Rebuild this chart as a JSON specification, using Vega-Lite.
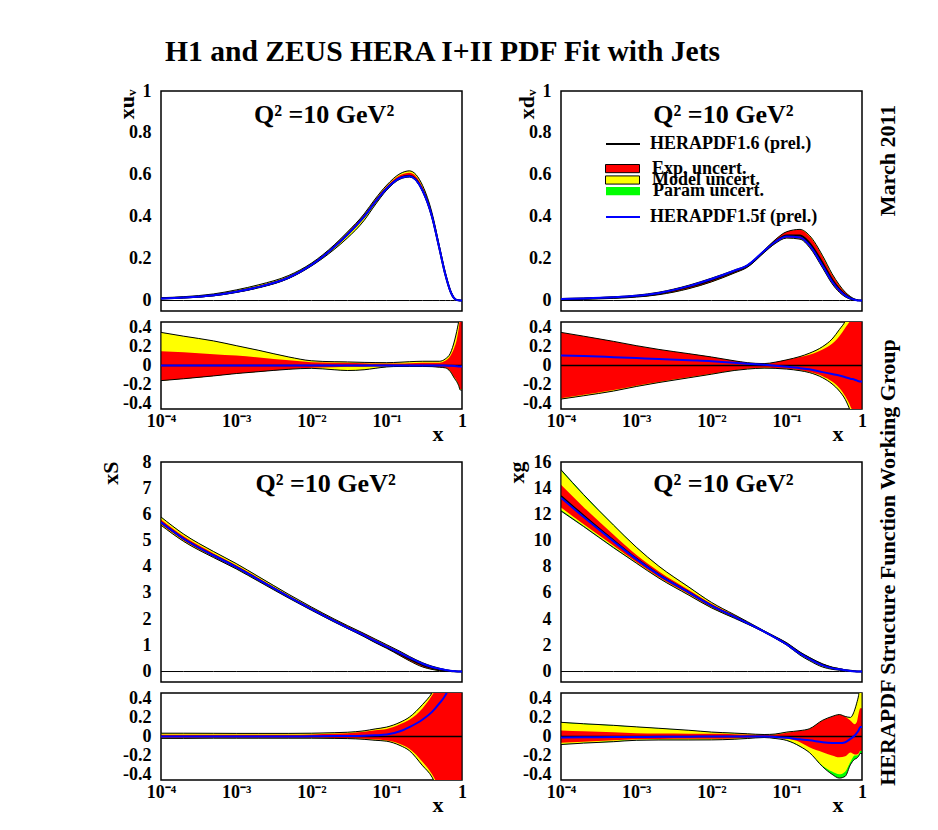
{
"$schema": "https://vega.github.io/schema/vega-lite/v6.json",
"autosize": {"type": "none"},
"padding": {"left": 161, "top": 91, "right": 777, "bottom": 739},
"background": "white",
"title": {"text": "H1 and ZEUS HERA I+II PDF Fit with Jets", "anchor": "start", "frame": "group", "offset": 30, "dy": 39, "baseline": "alphabetic", "font": "Liberation Serif", "fontSize": 29.6, "fontWeight": "bold", "color": "black", "dx": 4},
"datasets": {
"tl": [
{"x":0.0001,"c":0.010,"b":0.010,"yl":0.0084,"rl":0.0084,"rh":0.0115,"yh":0.0135},
{"x":0.0002,"c":0.014,"b":0.014,"yl":0.012,"rl":0.012,"rh":0.016,"yh":0.0183},
{"x":0.0005,"c":0.025,"b":0.025,"yl":0.0223,"rl":0.0223,"rh":0.028,"yh":0.0315},
{"x":0.001,"c":0.042,"b":0.042,"yl":0.0384,"rl":0.0384,"rh":0.0464,"yh":0.0508},
{"x":0.002,"c":0.065,"b":0.065,"yl":0.0608,"rl":0.0608,"rh":0.0705,"yh":0.0754},
{"x":0.005,"c":0.11,"b":0.11,"yl":0.1056,"rl":0.1056,"rh":0.116,"yh":0.12},
{"x":0.01,"c":0.17,"b":0.17,"yl":0.1649,"rl":0.1658,"rh":0.176,"yh":0.1785},
{"x":0.02,"c":0.255,"b":0.255,"yl":0.2435,"rl":0.2504,"rh":0.2627,"yh":0.2652},
{"x":0.03,"c":0.315,"b":0.315,"yl":0.2983,"rl":0.3106,"rh":0.3238,"yh":0.327},
{"x":0.05,"c":0.40,"b":0.40,"yl":0.382,"rl":0.3952,"rh":0.41,"yh":0.4132},
{"x":0.07,"c":0.47,"b":0.47,"yl":0.4559,"rl":0.4648,"rh":0.4803,"yh":0.4846},
{"x":0.1,"c":0.535,"b":0.535,"yl":0.527,"rl":0.5297,"rh":0.5457,"yh":0.551},
{"x":0.15,"c":0.585,"b":0.585,"yl":0.5792,"rl":0.5803,"rh":0.5979,"yh":0.6055},
{"x":0.2,"c":0.595,"b":0.593,"yl":0.589,"rl":0.5902,"rh":0.6099,"yh":0.6188},
{"x":0.3,"c":0.525,"b":0.524,"yl":0.5198,"rl":0.5198,"rh":0.5408,"yh":0.5486},
{"x":0.4,"c":0.40,"b":0.40,"yl":0.3952,"rl":0.3952,"rh":0.412,"yh":0.418},
{"x":0.5,"c":0.25,"b":0.25,"yl":0.2455,"rl":0.2455,"rh":0.2575,"yh":0.2613},
{"x":0.6,"c":0.125,"b":0.125,"yl":0.1219,"rl":0.1219,"rh":0.1313,"yh":0.1338},
{"x":0.7,"c":0.045,"b":0.045,"yl":0.0421,"rl":0.0423,"rh":0.0495,"yh":0.0509},
{"x":0.8,"c":0.008,"b":0.008,"yl":0.0069,"rl":0.007,"rh":0.0096,"yh":0.0102},
{"x":0.85,"c":0.003,"b":0.003,"yl":0.0025,"rl":0.0025,"rh":0.0038,"yh":0.0041},
{"x":0.9,"c":0.001,"b":0.001,"yl":0.0008,"rl":0.0008,"rh":0.0014,"yh":0.0015},
{"x":0.95,"c":0.0001,"b":0.0001,"yl":0.0001,"rl":0.0001,"rh":0.0002,"yh":0.0002},
{"x":1,"c":0,"b":0,"yl":0,"rl":0,"rh":0,"yh":0}
],
"tlr": [
{"x":0.0001,"b":0,"yl":-0.16,"rl":-0.16,"rh":0.15,"yh":0.35},
{"x":0.0002,"b":0,"yl":-0.14,"rl":-0.14,"rh":0.14,"yh":0.31},
{"x":0.0005,"b":0,"yl":-0.11,"rl":-0.11,"rh":0.12,"yh":0.26},
{"x":0.001,"b":0,"yl":-0.085,"rl":-0.085,"rh":0.105,"yh":0.21},
{"x":0.002,"b":0,"yl":-0.065,"rl":-0.065,"rh":0.085,"yh":0.16},
{"x":0.005,"b":0,"yl":-0.04,"rl":-0.04,"rh":0.055,"yh":0.09},
{"x":0.01,"b":0,"yl":-0.03,"rl":-0.025,"rh":0.035,"yh":0.05},
{"x":0.02,"b":0,"yl":-0.045,"rl":-0.018,"rh":0.03,"yh":0.04},
{"x":0.03,"b":0,"yl":-0.053,"rl":-0.014,"rh":0.028,"yh":0.038},
{"x":0.05,"b":0,"yl":-0.045,"rl":-0.012,"rh":0.025,"yh":0.033},
{"x":0.07,"b":0,"yl":-0.03,"rl":-0.011,"rh":0.022,"yh":0.031},
{"x":0.1,"b":0,"yl":-0.015,"rl":-0.01,"rh":0.02,"yh":0.03},
{"x":0.15,"b":0,"yl":-0.01,"rl":-0.008,"rh":0.022,"yh":0.035},
{"x":0.2,"b":0,"yl":-0.01,"rl":-0.008,"rh":0.025,"yh":0.04},
{"x":0.3,"b":0,"yl":-0.01,"rl":-0.01,"rh":0.03,"yh":0.045},
{"x":0.4,"b":0,"yl":-0.012,"rl":-0.012,"rh":0.03,"yh":0.045},
{"x":0.5,"b":0,"yl":-0.018,"rl":-0.018,"rh":0.03,"yh":0.045},
{"x":0.6,"b":0,"yl":-0.025,"rl":-0.025,"rh":0.05,"yh":0.07},
{"x":0.7,"b":-0.003,"yl":-0.065,"rl":-0.06,"rh":0.1,"yh":0.13},
{"x":0.8,"b":-0.005,"yl":-0.14,"rl":-0.13,"rh":0.2,"yh":0.27},
{"x":0.85,"b":-0.007,"yl":-0.17,"rl":-0.16,"rh":0.27,"yh":0.36},
{"x":0.9,"b":-0.01,"yl":-0.21,"rl":-0.2,"rh":0.38,"yh":0.46},
{"x":0.95,"b":-0.01,"yl":-0.26,"rl":-0.25,"rh":0.5,"yh":0.6},
{"x":1,"b":-0.01,"yl":-0.26,"rl":-0.25,"rh":0.5,"yh":0.6}
],
"tr": [
{"x":0.0001,"c":0.007,"b":0.0077,"yl":0.0045,"rl":0.0046,"rh":0.0095,"yh":0.0095},
{"x":0.0002,"c":0.009,"b":0.0099,"yl":0.0061,"rl":0.0062,"rh":0.0118,"yh":0.0118},
{"x":0.0005,"c":0.014,"b":0.0152,"yl":0.0102,"rl":0.0104,"rh":0.0176,"yh":0.0176},
{"x":0.001,"c":0.021,"b":0.0226,"yl":0.0163,"rl":0.0165,"rh":0.0254,"yh":0.0254},
{"x":0.002,"c":0.034,"b":0.0363,"yl":0.0279,"rl":0.0281,"rh":0.0398,"yh":0.0398},
{"x":0.005,"c":0.065,"b":0.0686,"yl":0.0566,"rl":0.0569,"rh":0.0731,"yh":0.0731},
{"x":0.01,"c":0.098,"b":0.1025,"yl":0.089,"rl":0.0894,"rh":0.1068,"yh":0.1068},
{"x":0.02,"c":0.138,"b":0.1421,"yl":0.1307,"rl":0.1311,"rh":0.1449,"yh":0.1449},
{"x":0.03,"c":0.165,"b":0.168,"yl":0.1587,"rl":0.1592,"rh":0.17,"yh":0.17},
{"x":0.05,"c":0.235,"b":0.2366,"yl":0.2284,"rl":0.2291,"rh":0.2397,"yh":0.2397},
{"x":0.07,"c":0.28,"b":0.2792,"yl":0.2716,"rl":0.2722,"rh":0.2898,"yh":0.2898},
{"x":0.1,"c":0.31,"b":0.3057,"yl":0.2982,"rl":0.2992,"rh":0.3286,"yh":0.3286},
{"x":0.15,"c":0.31,"b":0.3013,"yl":0.2929,"rl":0.2945,"rh":0.3379,"yh":0.3395},
{"x":0.2,"c":0.275,"b":0.264,"yl":0.2544,"rl":0.2558,"rh":0.3066,"yh":0.3108},
{"x":0.3,"c":0.178,"b":0.1655,"yl":0.1549,"rl":0.1579,"rh":0.2083,"yh":0.2136},
{"x":0.4,"c":0.10,"b":0.091,"yl":0.0805,"rl":0.083,"rh":0.123,"yh":0.128},
{"x":0.5,"c":0.054,"b":0.0483,"yl":0.0394,"rl":0.0412,"rh":0.0707,"yh":0.0745},
{"x":0.6,"c":0.027,"b":0.0237,"yl":0.0173,"rl":0.0182,"rh":0.0378,"yh":0.0397},
{"x":0.7,"c":0.012,"b":0.0103,"yl":0.0062,"rl":0.0068,"rh":0.0178,"yh":0.0192},
{"x":0.8,"c":0.004,"b":0.0034,"yl":0.0016,"rl":0.0018,"rh":0.0064,"yh":0.007},
{"x":0.85,"c":0.002,"b":0.0017,"yl":0.0006,"rl":0.0007,"rh":0.0034,"yh":0.0037},
{"x":0.9,"c":0.0007,"b":0.0006,"yl":0.0001,"rl":0.0001,"rh":0.0013,"yh":0.0014},
{"x":0.95,"c":0.0001,"b":0.0001,"yl":0,"rl":0,"rh":0.0002,"yh":0.0002},
{"x":1,"c":0,"b":0,"yl":0,"rl":0,"rh":0,"yh":0}
],
"trr": [
{"x":0.0001,"b":0.106,"yl":-0.355,"rl":-0.345,"rh":0.35,"yh":0.35},
{"x":0.0002,"b":0.1,"yl":-0.32,"rl":-0.31,"rh":0.31,"yh":0.31},
{"x":0.0005,"b":0.088,"yl":-0.27,"rl":-0.26,"rh":0.255,"yh":0.255},
{"x":0.001,"b":0.078,"yl":-0.222,"rl":-0.215,"rh":0.21,"yh":0.21},
{"x":0.002,"b":0.068,"yl":-0.18,"rl":-0.175,"rh":0.17,"yh":0.17},
{"x":0.005,"b":0.055,"yl":-0.13,"rl":-0.125,"rh":0.125,"yh":0.125},
{"x":0.01,"b":0.046,"yl":-0.092,"rl":-0.088,"rh":0.09,"yh":0.09},
{"x":0.02,"b":0.03,"yl":-0.053,"rl":-0.05,"rh":0.05,"yh":0.05},
{"x":0.03,"b":0.018,"yl":-0.038,"rl":-0.035,"rh":0.03,"yh":0.03},
{"x":0.05,"b":0.007,"yl":-0.028,"rl":-0.025,"rh":0.02,"yh":0.02},
{"x":0.07,"b":-0.003,"yl":-0.03,"rl":-0.028,"rh":0.035,"yh":0.035},
{"x":0.1,"b":-0.014,"yl":-0.038,"rl":-0.035,"rh":0.06,"yh":0.06},
{"x":0.15,"b":-0.028,"yl":-0.055,"rl":-0.05,"rh":0.09,"yh":0.095},
{"x":0.2,"b":-0.04,"yl":-0.075,"rl":-0.07,"rh":0.115,"yh":0.13},
{"x":0.3,"b":-0.07,"yl":-0.13,"rl":-0.113,"rh":0.17,"yh":0.2},
{"x":0.4,"b":-0.09,"yl":-0.195,"rl":-0.17,"rh":0.23,"yh":0.28},
{"x":0.5,"b":-0.106,"yl":-0.27,"rl":-0.237,"rh":0.31,"yh":0.38},
{"x":0.6,"b":-0.124,"yl":-0.36,"rl":-0.326,"rh":0.4,"yh":0.47},
{"x":0.7,"b":-0.14,"yl":-0.48,"rl":-0.43,"rh":0.48,"yh":0.6},
{"x":0.8,"b":-0.15,"yl":-0.6,"rl":-0.55,"rh":0.6,"yh":0.75},
{"x":0.85,"b":-0.158,"yl":-0.7,"rl":-0.65,"rh":0.7,"yh":0.85},
{"x":0.9,"b":-0.166,"yl":-0.85,"rl":-0.8,"rh":0.8,"yh":0.95},
{"x":0.95,"b":-0.17,"yl":-1,"rl":-1,"rh":1,"yh":1.2},
{"x":1,"b":-0.17,"yl":-1,"rl":-1,"rh":1,"yh":1.2}
],
"bl": [
{"x":0.0001,"c":5.7,"b":5.7,"yl":5.586,"rl":5.62,"rh":5.803,"yh":5.9},
{"x":0.0002,"c":5.07,"b":5.07,"yl":4.969,"rl":5.004,"rh":5.161,"yh":5.247},
{"x":0.0005,"c":4.43,"b":4.43,"yl":4.35,"rl":4.377,"rh":4.51,"yh":4.581},
{"x":0.001,"c":3.99,"b":3.99,"yl":3.918,"rl":3.942,"rh":4.062,"yh":4.122},
{"x":0.002,"c":3.5,"b":3.5,"yl":3.437,"rl":3.458,"rh":3.563,"yh":3.616},
{"x":0.005,"c":2.85,"b":2.85,"yl":2.799,"rl":2.816,"rh":2.904,"yh":2.944},
{"x":0.01,"c":2.38,"b":2.38,"yl":2.337,"rl":2.351,"rh":2.432,"yh":2.463},
{"x":0.02,"c":1.93,"b":1.93,"yl":1.891,"rl":1.901,"rh":1.984,"yh":2.007},
{"x":0.03,"c":1.68,"b":1.68,"yl":1.643,"rl":1.65,"rh":1.739,"yh":1.756},
{"x":0.05,"c":1.37,"b":1.38,"yl":1.329,"rl":1.336,"rh":1.439,"yh":1.452},
{"x":0.07,"c":1.15,"b":1.165,"yl":1.104,"rl":1.112,"rh":1.225,"yh":1.242},
{"x":0.1,"c":0.93,"b":0.949,"yl":0.884,"rl":0.891,"rh":1.004,"yh":1.023},
{"x":0.15,"c":0.67,"b":0.707,"yl":0.606,"rl":0.616,"rh":0.757,"yh":0.771},
{"x":0.2,"c":0.48,"b":0.528,"yl":0.408,"rl":0.418,"rh":0.565,"yh":0.578},
{"x":0.3,"c":0.25,"b":0.295,"yl":0.173,"rl":0.183,"rh":0.325,"yh":0.335},
{"x":0.4,"c":0.14,"b":0.176,"yl":0.08,"rl":0.084,"rh":0.201,"yh":0.204},
{"x":0.5,"c":0.08,"b":0.108,"yl":0.032,"rl":0.036,"rh":0.126,"yh":0.128},
{"x":0.6,"c":0.04,"b":0.057,"yl":0.01,"rl":0.012,"rh":0.07,"yh":0.071},
{"x":0.7,"c":0.02,"b":0.031,"yl":0.002,"rl":0.003,"rh":0.038,"yh":0.039},
{"x":0.8,"c":0.008,"b":0.014,"yl":0,"rl":0,"rh":0.016,"yh":0.017},
{"x":0.85,"c":0.004,"b":0.007,"yl":0,"rl":0,"rh":0.008,"yh":0.008},
{"x":0.9,"c":0.002,"b":0.004,"yl":0,"rl":0,"rh":0.004,"yh":0.004},
{"x":0.95,"c":0.0005,"b":0.001,"yl":0,"rl":0,"rh":0.001,"yh":0.001},
{"x":1,"c":0,"b":0,"yl":0,"rl":0,"rh":0,"yh":0}
],
"blr": [
{"x":0.0001,"b":0,"yl":-0.02,"rl":-0.014,"rh":0.018,"yh":0.035},
{"x":0.0002,"b":0,"yl":-0.02,"rl":-0.013,"rh":0.018,"yh":0.035},
{"x":0.0005,"b":0,"yl":-0.018,"rl":-0.012,"rh":0.018,"yh":0.034},
{"x":0.001,"b":0,"yl":-0.018,"rl":-0.012,"rh":0.018,"yh":0.033},
{"x":0.002,"b":0,"yl":-0.018,"rl":-0.012,"rh":0.018,"yh":0.033},
{"x":0.005,"b":0,"yl":-0.018,"rl":-0.012,"rh":0.019,"yh":0.033},
{"x":0.01,"b":0.002,"yl":-0.018,"rl":-0.012,"rh":0.022,"yh":0.035},
{"x":0.02,"b":0.004,"yl":-0.02,"rl":-0.015,"rh":0.028,"yh":0.04},
{"x":0.03,"b":0.005,"yl":-0.022,"rl":-0.018,"rh":0.035,"yh":0.045},
{"x":0.05,"b":0.008,"yl":-0.03,"rl":-0.025,"rh":0.05,"yh":0.06},
{"x":0.07,"b":0.013,"yl":-0.04,"rl":-0.033,"rh":0.065,"yh":0.08},
{"x":0.1,"b":0.02,"yl":-0.05,"rl":-0.042,"rh":0.08,"yh":0.1},
{"x":0.15,"b":0.055,"yl":-0.095,"rl":-0.08,"rh":0.13,"yh":0.15},
{"x":0.2,"b":0.1,"yl":-0.15,"rl":-0.13,"rh":0.177,"yh":0.205},
{"x":0.3,"b":0.18,"yl":-0.31,"rl":-0.27,"rh":0.3,"yh":0.34},
{"x":0.4,"b":0.26,"yl":-0.43,"rl":-0.4,"rh":0.435,"yh":0.46},
{"x":0.5,"b":0.35,"yl":-0.6,"rl":-0.55,"rh":0.58,"yh":0.6},
{"x":0.6,"b":0.435,"yl":-0.75,"rl":-0.7,"rh":0.75,"yh":0.78},
{"x":0.7,"b":0.55,"yl":-0.9,"rl":-0.85,"rh":0.9,"yh":0.95},
{"x":0.8,"b":0.7,"yl":-1,"rl":-1,"rh":1,"yh":1.1},
{"x":0.85,"b":0.8,"yl":-1,"rl":-1,"rh":1,"yh":1.1},
{"x":0.9,"b":0.9,"yl":-1,"rl":-1,"rh":1,"yh":1.1},
{"x":0.95,"b":1,"yl":-1,"rl":-1,"rh":1,"yh":1.1},
{"x":1,"b":1,"yl":-1,"rl":-1,"rh":1,"yh":1.1}
],
"br": [
{"x":0.0001,"c":13.4,"b":13.27,"gl":12.26,"yl":12.33,"rl":12.53,"rh":14.26,"yh":15.34,"gh":15.41},
{"x":0.0002,"c":11.9,"b":11.8,"gl":11.07,"yl":11.13,"rl":11.25,"rh":12.55,"yh":13.45,"gh":13.51},
{"x":0.0005,"c":10.0,"b":9.94,"gl":9.45,"yl":9.5,"rl":9.6,"rh":10.45,"yh":11.15,"gh":11.18},
{"x":0.001,"c":8.62,"b":8.58,"gl":8.28,"yl":8.3,"rl":8.36,"rh":8.92,"yh":9.48,"gh":9.5},
{"x":0.002,"c":7.4,"b":7.38,"gl":7.13,"yl":7.14,"rl":7.2,"rh":7.64,"yh":8.03,"gh":8.04},
{"x":0.005,"c":6.05,"b":6.04,"gl":5.83,"yl":5.84,"rl":5.9,"rh":6.23,"yh":6.44,"gh":6.45},
{"x":0.01,"c":5.04,"b":5.04,"gl":4.86,"yl":4.86,"rl":4.91,"rh":5.18,"yh":5.27,"gh":5.28},
{"x":0.02,"c":4.2,"b":4.2,"gl":4.08,"yl":4.08,"rl":4.12,"rh":4.31,"yh":4.35,"gh":4.35},
{"x":0.03,"c":3.7,"b":3.7,"gl":3.62,"yl":3.63,"rl":3.65,"rh":3.78,"yh":3.8,"gh":3.81},
{"x":0.05,"c":3.05,"b":3.05,"gl":3.02,"yl":3.02,"rl":3.03,"rh":3.1,"yh":3.11,"gh":3.11},
{"x":0.07,"c":2.6,"b":2.59,"gl":2.55,"yl":2.55,"rl":2.57,"rh":2.66,"yh":2.67,"gh":2.67},
{"x":0.1,"c":2.1,"b":2.07,"gl":2.01,"yl":2.02,"rl":2.05,"rh":2.18,"yh":2.2,"gh":2.2},
{"x":0.15,"c":1.4,"b":1.36,"gl":1.25,"yl":1.26,"rl":1.32,"rh":1.48,"yh":1.48,"gh":1.49},
{"x":0.2,"c":1.0,"b":0.96,"gl":0.83,"yl":0.834,"rl":0.887,"rh":1.08,"yh":1.08,"gh":1.082},
{"x":0.3,"c":0.5,"b":0.47,"gl":0.34,"yl":0.346,"rl":0.417,"rh":0.585,"yh":0.585,"gh":0.586},
{"x":0.4,"c":0.28,"b":0.261,"gl":0.168,"yl":0.176,"rl":0.224,"rh":0.339,"yh":0.339,"gh":0.339},
{"x":0.5,"c":0.18,"b":0.167,"gl":0.101,"yl":0.108,"rl":0.14,"rh":0.221,"yh":0.221,"gh":0.222},
{"x":0.6,"c":0.1,"b":0.094,"gl":0.058,"yl":0.063,"rl":0.079,"rh":0.121,"yh":0.121,"gh":0.121},
{"x":0.7,"c":0.05,"b":0.049,"gl":0.035,"yl":0.0365,"rl":0.0415,"rh":0.0585,"yh":0.06,"gh":0.06},
{"x":0.8,"c":0.02,"b":0.0202,"gl":0.0152,"yl":0.016,"rl":0.0162,"rh":0.0226,"yh":0.0256,"gh":0.0256},
{"x":0.85,"c":0.01,"b":0.0104,"gl":0.0077,"yl":0.008,"rl":0.0081,"rh":0.0115,"yh":0.0135,"gh":0.0135},
{"x":0.9,"c":0.004,"b":0.0043,"gl":0.0032,"yl":0.0032,"rl":0.0033,"rh":0.005,"yh":0.0057,"gh":0.0057},
{"x":0.95,"c":0.001,"b":0.0011,"gl":0.0008,"yl":0.0009,"rl":0.0009,"rh":0.0013,"yh":0.0016,"gh":0.0016},
{"x":1,"c":0,"b":0,"gl":0,"yl":0,"rl":0,"rh":0,"yh":0,"gh":0}
],
"brr": [
{"x":0.0001,"b":-0.01,"gl":-0.085,"yl":-0.08,"rl":-0.065,"rh":0.064,"yh":0.145,"gh":0.15},
{"x":0.0002,"b":-0.008,"gl":-0.07,"yl":-0.065,"rl":-0.055,"rh":0.055,"yh":0.13,"gh":0.135},
{"x":0.0005,"b":-0.006,"gl":-0.055,"yl":-0.05,"rl":-0.04,"rh":0.045,"yh":0.115,"gh":0.118},
{"x":0.001,"b":-0.005,"gl":-0.04,"yl":-0.037,"rl":-0.03,"rh":0.035,"yh":0.1,"gh":0.102},
{"x":0.002,"b":-0.003,"gl":-0.037,"yl":-0.035,"rl":-0.027,"rh":0.032,"yh":0.085,"gh":0.087},
{"x":0.005,"b":-0.002,"gl":-0.037,"yl":-0.035,"rl":-0.025,"rh":0.03,"yh":0.065,"gh":0.066},
{"x":0.01,"b":0,"gl":-0.036,"yl":-0.035,"rl":-0.025,"rh":0.028,"yh":0.046,"gh":0.047},
{"x":0.02,"b":0,"gl":-0.029,"yl":-0.028,"rl":-0.02,"rh":0.025,"yh":0.035,"gh":0.036},
{"x":0.03,"b":0,"gl":-0.021,"yl":-0.02,"rl":-0.014,"rh":0.022,"yh":0.028,"gh":0.029},
{"x":0.05,"b":0,"gl":-0.011,"yl":-0.01,"rl":-0.007,"rh":0.018,"yh":0.02,"gh":0.021},
{"x":0.07,"b":-0.005,"gl":-0.021,"yl":-0.02,"rl":-0.012,"rh":0.022,"yh":0.025,"gh":0.026},
{"x":0.1,"b":-0.014,"gl":-0.042,"yl":-0.04,"rl":-0.025,"rh":0.04,"yh":0.046,"gh":0.047},
{"x":0.15,"b":-0.03,"gl":-0.105,"yl":-0.1,"rl":-0.06,"rh":0.06,"yh":0.06,"gh":0.062},
{"x":0.2,"b":-0.04,"gl":-0.17,"yl":-0.166,"rl":-0.113,"rh":0.08,"yh":0.08,"gh":0.082},
{"x":0.3,"b":-0.06,"gl":-0.32,"yl":-0.308,"rl":-0.166,"rh":0.17,"yh":0.17,"gh":0.172},
{"x":0.4,"b":-0.068,"gl":-0.4,"yl":-0.37,"rl":-0.2,"rh":0.21,"yh":0.21,"gh":0.212},
{"x":0.5,"b":-0.07,"gl":-0.44,"yl":-0.4,"rl":-0.22,"rh":0.23,"yh":0.23,"gh":0.232},
{"x":0.6,"b":-0.06,"gl":-0.42,"yl":-0.37,"rl":-0.21,"rh":0.21,"yh":0.21,"gh":0.212},
{"x":0.7,"b":-0.025,"gl":-0.3,"yl":-0.27,"rl":-0.17,"rh":0.17,"yh":0.2,"gh":0.202},
{"x":0.8,"b":0.01,"gl":-0.24,"yl":-0.2,"rl":-0.19,"rh":0.13,"yh":0.28,"gh":0.282},
{"x":0.85,"b":0.035,"gl":-0.23,"yl":-0.2,"rl":-0.19,"rh":0.15,"yh":0.35,"gh":0.352},
{"x":0.9,"b":0.064,"gl":-0.21,"yl":-0.19,"rl":-0.18,"rh":0.24,"yh":0.43,"gh":0.432},
{"x":0.95,"b":0.1,"gl":-0.18,"yl":-0.15,"rl":-0.15,"rh":0.3,"yh":0.55,"gh":0.552},
{"x":1,"b":0.1,"gl":-0.18,"yl":-0.15,"rl":-0.15,"rh":0.3,"yh":0.55,"gh":0.552}
]
},
"columns": 2,
"spacing": {"row": 11, "column": 99},
"bounds": "flush",
"concat": [
{
 "width": 301, "height": 220,
 "data": {"name": "tl"},
 "layer": [
  {"mark": {"type": "area", "fill": "#00ff00", "opacity": 1, "interpolate": "monotone", "clip": true},
   "encoding": {
    "x": {"field": "x", "type": "quantitative", "scale": {"type": "log", "domain": [0.0001, 1]},
          "axis": {"orient": "bottom", "values": [0.0001,0.0002,0.0003,0.0004,0.0005,0.0006,0.0007,0.0008,0.0009,0.001,0.002,0.003,0.004,0.005,0.006,0.007,0.008,0.009,0.01,0.02,0.03,0.04,0.05,0.06,0.07,0.08,0.09,0.1,0.2,0.3,0.4,0.5,0.6,0.7,0.8,0.9,1], "labels": false, "title": null,
                   "encode": {"ticks": {"update": {"y2": {"signal": "abs(log(datum.value)/LN10-round(log(datum.value)/LN10))<0.001?-8:-4"}}}}}},
    "y": {"field": "yl", "type": "quantitative", "scale": {"domain": [-0.05, 1], "nice": false, "zero": false},
          "axis": {"orient": "left", "values": [0,0.05,0.1,0.15,0.2,0.25,0.3,0.35,0.4,0.45,0.5,0.55,0.6,0.65,0.7,0.75,0.8,0.85,0.9,0.95,1],
                   "labelExpr": "abs(datum.value*5-round(datum.value*5))<0.001?format(datum.value,''):''", "labelPadding": 10,
                   "title": "xuᵥ", "titleAngle": 270, "titleAlign": "right", "titleBaseline": "alphabetic", "titleX": -28, "titleY": -2,
                   "encode": {"ticks": {"update": {"x2": {"signal": "abs(datum.value*5-round(datum.value*5))<0.001?6:3"}}}}}},
    "y2": {"field": "yh"}}},
  {"mark": {"type": "area", "fill": "#ffff00", "opacity": 1, "interpolate": "monotone", "clip": true},
   "encoding": {
    "x": {"field": "x", "type": "quantitative", "scale": {"type": "log", "domain": [0.0001, 1]}, "axis": null},
    "y": {"field": "yl", "type": "quantitative", "scale": {"domain": [-0.05, 1], "nice": false, "zero": false},
          "axis": {"orient": "right", "values": [0,0.05,0.1,0.15,0.2,0.25,0.3,0.35,0.4,0.45,0.5,0.55,0.6,0.65,0.7,0.75,0.8,0.85,0.9,0.95,1], "labels": false, "title": null,
                   "encode": {"ticks": {"update": {"x2": {"signal": "abs(datum.value*5-round(datum.value*5))<0.001?-6:-3"}}}}}},
    "y2": {"field": "yh"}}},
  {"mark": {"type": "area", "fill": "#ff0000", "opacity": 1, "interpolate": "monotone", "clip": true},
   "encoding": {"x": {"field": "x", "type": "quantitative", "scale": {"type": "log", "domain": [0.0001, 1]}, "axis": null},
    "y": {"field": "rl", "type": "quantitative", "scale": {"domain": [-0.05, 1], "nice": false, "zero": false}, "axis": null}, "y2": {"field": "rh"}}},
  {"mark": {"type": "area", "fill": "transparent", "stroke": "black", "strokeWidth": 1, "interpolate": "monotone", "clip": true},
   "encoding": {"x": {"field": "x", "type": "quantitative", "scale": {"type": "log", "domain": [0.0001, 1]}, "axis": null},
    "y": {"field": "yl", "type": "quantitative", "scale": {"domain": [-0.05, 1], "nice": false, "zero": false}, "axis": null}, "y2": {"field": "yh"}}},
  {"mark": {"type": "line", "stroke": "black", "strokeWidth": 1, "clip": true},
   "encoding": {"x": {"field": "x", "type": "quantitative", "scale": {"type": "log", "domain": [0.0001, 1]}, "axis": null},
    "y": {"datum": 0, "type": "quantitative", "axis": null}}},
  {"mark": {"type": "line", "stroke": "black", "strokeWidth": 2, "interpolate": "monotone", "clip": true},
   "encoding": {"x": {"field": "x", "type": "quantitative", "scale": {"type": "log", "domain": [0.0001, 1]}, "axis": null},
    "y": {"field": "c", "type": "quantitative", "scale": {"domain": [-0.05, 1], "nice": false, "zero": false}, "axis": null}}},
  {"mark": {"type": "line", "stroke": "#0000ff", "strokeWidth": 2, "interpolate": "monotone", "clip": true},
   "encoding": {"x": {"field": "x", "type": "quantitative", "scale": {"type": "log", "domain": [0.0001, 1]}, "axis": null},
    "y": {"field": "b", "type": "quantitative", "scale": {"domain": [-0.05, 1], "nice": false, "zero": false}, "axis": null}}},
  {"data": {"values": [{"t": "Q² =10 GeV²"}]},
   "mark": {"type": "text", "font": "Liberation Serif", "fontWeight": "bold", "fontSize": 26, "align": "center", "baseline": "alphabetic", "color": "black"},
   "encoding": {"x": {"datum": 0.0147, "type": "quantitative", "axis": null}, "y": {"datum": 0.849, "type": "quantitative", "axis": null}, "text": {"field": "t"}}}
 ],
 "resolve": {"axis": {"x": "independent", "y": "independent"}}
},
{
 "width": 301, "height": 220,
 "data": {"name": "tr"},
 "layer": [
  {"mark": {"type": "area", "fill": "#00ff00", "interpolate": "monotone", "clip": true},
   "encoding": {
    "x": {"field": "x", "type": "quantitative", "scale": {"type": "log", "domain": [0.0001, 1]},
          "axis": {"orient": "bottom", "values": [0.0001,0.0002,0.0003,0.0004,0.0005,0.0006,0.0007,0.0008,0.0009,0.001,0.002,0.003,0.004,0.005,0.006,0.007,0.008,0.009,0.01,0.02,0.03,0.04,0.05,0.06,0.07,0.08,0.09,0.1,0.2,0.3,0.4,0.5,0.6,0.7,0.8,0.9,1], "labels": false, "title": null,
                   "encode": {"ticks": {"update": {"y2": {"signal": "abs(log(datum.value)/LN10-round(log(datum.value)/LN10))<0.001?-8:-4"}}}}}},
    "y": {"field": "yl", "type": "quantitative", "scale": {"domain": [-0.05, 1], "nice": false, "zero": false},
          "axis": {"orient": "left", "values": [0,0.05,0.1,0.15,0.2,0.25,0.3,0.35,0.4,0.45,0.5,0.55,0.6,0.65,0.7,0.75,0.8,0.85,0.9,0.95,1],
                   "labelExpr": "abs(datum.value*5-round(datum.value*5))<0.001?format(datum.value,''):''", "labelPadding": 10,
                   "title": "xdᵥ", "titleAngle": 270, "titleAlign": "right", "titleBaseline": "alphabetic", "titleX": -28, "titleY": -2,
                   "encode": {"ticks": {"update": {"x2": {"signal": "abs(datum.value*5-round(datum.value*5))<0.001?6:3"}}}}}},
    "y2": {"field": "yh"},
    "opacity": {"datum": "Param uncert.", "type": "nominal", "scale": {"type": "point", "domain": ["Param uncert."], "range": [1, 1]},
             "legend": {"orient": "none", "legendX": 44, "legendY": 94.2, "title": null, "symbolType": "M-1,-0.24H1V0.24H-1Z", "symbolSize": 1156, "symbolOpacity": 1, "symbolFillColor": "#00ff00", "symbolStrokeColor": "black",
                        "labelFont": "Liberation Serif", "labelFontWeight": "bold", "labelFontSize": 18, "labelColor": "black", "labelOffset": 12, "labelLimit": 400, "clipHeight": 12, "padding": 0,
                        "encode": {"symbols": {"update": {"fill": {"value": "#00ff00"}, "fillOpacity": {"value": 1}, "opacity": {"value": 1}, "stroke": {"value": "black"}, "strokeWidth": {"value": 1}}}}}}}},
  {"mark": {"type": "area", "opacity": 1, "interpolate": "monotone", "clip": true},
   "encoding": {
    "x": {"field": "x", "type": "quantitative", "scale": {"type": "log", "domain": [0.0001, 1]}, "axis": null},
    "y": {"field": "yl", "type": "quantitative", "scale": {"domain": [-0.05, 1], "nice": false, "zero": false},
          "axis": {"orient": "right", "values": [0,0.05,0.1,0.15,0.2,0.25,0.3,0.35,0.4,0.45,0.5,0.55,0.6,0.65,0.7,0.75,0.8,0.85,0.9,0.95,1], "labels": false,
                   "title": "March 2011", "titleX": 15, "titleY": 69, "titleAngle": 270, "titleAlign": "center", "titleBaseline": "top",
                   "encode": {"ticks": {"update": {"x2": {"signal": "abs(datum.value*5-round(datum.value*5))<0.001?-6:-3"}}}}}},
    "y2": {"field": "yh"},
    "color": {"datum": "Model uncert.", "scale": {"domain": ["Model uncert."], "range": ["#ffff00"]},
             "legend": {"orient": "none", "legendX": 44, "legendY": 83, "title": null, "symbolType": "M-1,-0.24H1V0.24H-1Z", "symbolSize": 1156, "symbolOpacity": 1,
                        "labelFont": "Liberation Serif", "labelFontWeight": "bold", "labelFontSize": 18, "labelColor": "black", "labelOffset": 12, "labelLimit": 400, "clipHeight": 12, "padding": 0,
                        "encode": {"symbols": {"update": {"fill": {"value": "#ffff00"}, "fillOpacity": {"value": 1}, "stroke": {"value": "black"}, "strokeWidth": {"value": 1}}}}}}}},
  {"mark": {"type": "area", "opacity": 1, "interpolate": "monotone", "clip": true},
   "encoding": {"x": {"field": "x", "type": "quantitative", "scale": {"type": "log", "domain": [0.0001, 1]}, "axis": null},
    "y": {"field": "rl", "type": "quantitative", "scale": {"domain": [-0.05, 1], "nice": false, "zero": false}, "axis": null}, "y2": {"field": "rh"},
    "fill": {"datum": "Exp. uncert.", "scale": {"domain": ["Exp. uncert."], "range": ["#ff0000"]},
             "legend": {"orient": "none", "legendX": 44, "legendY": 71.6, "title": null, "symbolType": "M-1,-0.24H1V0.24H-1Z", "symbolSize": 1156, "symbolOpacity": 1,
                        "labelFont": "Liberation Serif", "labelFontWeight": "bold", "labelFontSize": 18, "labelColor": "black", "labelOffset": 12, "labelLimit": 400, "clipHeight": 12, "padding": 0,
                        "encode": {"symbols": {"update": {"fill": {"value": "#ff0000"}, "fillOpacity": {"value": 1}, "stroke": {"value": "black"}, "strokeWidth": {"value": 1}}}}}}}},
  {"mark": {"type": "area", "fill": "transparent", "stroke": "black", "strokeWidth": 1, "interpolate": "monotone", "clip": true},
   "encoding": {"x": {"field": "x", "type": "quantitative", "scale": {"type": "log", "domain": [0.0001, 1]}, "axis": null},
    "y": {"field": "yl", "type": "quantitative", "scale": {"domain": [-0.05, 1], "nice": false, "zero": false}, "axis": null}, "y2": {"field": "yh"}}},
  {"mark": {"type": "line", "stroke": "black", "strokeWidth": 1, "clip": true},
   "encoding": {"x": {"field": "x", "type": "quantitative", "scale": {"type": "log", "domain": [0.0001, 1]}, "axis": null},
    "y": {"datum": 0, "type": "quantitative", "axis": null}}},
  {"mark": {"type": "line", "strokeWidth": 2, "interpolate": "monotone", "clip": true},
   "encoding": {"x": {"field": "x", "type": "quantitative", "scale": {"type": "log", "domain": [0.0001, 1]}, "axis": null},
    "y": {"field": "c", "type": "quantitative", "scale": {"domain": [-0.05, 1], "nice": false, "zero": false}, "axis": null},
    "stroke": {"datum": "HERAPDF1.6 (prel.)", "scale": {"domain": ["HERAPDF1.6 (prel.)", "HERAPDF1.5f (prel.)"], "range": ["black", "#0000ff"]},
               "legend": {"orient": "none", "legendX": 44, "legendY": 35, "title": null, "symbolType": "stroke", "symbolSize": 1156, "symbolStrokeWidth": 2,
                          "labelFont": "Liberation Serif", "labelFontWeight": "bold", "labelFontSize": 18, "labelColor": "black", "labelOffset": 9, "labelLimit": 400, "rowPadding": 46, "padding": 0}}}},
  {"mark": {"type": "line", "strokeWidth": 2, "interpolate": "monotone", "clip": true},
   "encoding": {"x": {"field": "x", "type": "quantitative", "scale": {"type": "log", "domain": [0.0001, 1]}, "axis": null},
    "y": {"field": "b", "type": "quantitative", "scale": {"domain": [-0.05, 1], "nice": false, "zero": false}, "axis": null},
    "stroke": {"datum": "HERAPDF1.5f (prel.)", "scale": {"domain": ["HERAPDF1.6 (prel.)", "HERAPDF1.5f (prel.)"], "range": ["black", "#0000ff"]}}}},
  {"data": {"values": [{"t": "Q² =10 GeV²"}]},
   "mark": {"type": "text", "font": "Liberation Serif", "fontWeight": "bold", "fontSize": 26, "align": "center", "baseline": "alphabetic", "color": "black"},
   "encoding": {"x": {"datum": 0.0144, "type": "quantitative", "axis": null}, "y": {"datum": 0.849, "type": "quantitative", "axis": null}, "text": {"field": "t"}}}
 ],
 "resolve": {"axis": {"x": "independent", "y": "independent"}}
},
{
 "width": 301, "height": 87,
 "data": {"name": "tlr"},
 "layer": [
  {"mark": {"type": "area", "fill": "#00ff00", "opacity": 1, "interpolate": "monotone", "clip": true},
   "encoding": {
    "x": {"field": "x", "type": "quantitative", "scale": {"type": "log", "domain": [0.0001, 1]},
          "axis": {"orient": "bottom", "values": [0.0001,0.0002,0.0003,0.0004,0.0005,0.0006,0.0007,0.0008,0.0009,0.001,0.002,0.003,0.004,0.005,0.006,0.007,0.008,0.009,0.01,0.02,0.03,0.04,0.05,0.06,0.07,0.08,0.09,0.1,0.2,0.3,0.4,0.5,0.6,0.7,0.8,0.9,1],
                   "labelExpr": "datum.value==1?'1':datum.value==0.1?'10⁻¹':datum.value==0.01?'10⁻²':datum.value==0.001?'10⁻³':datum.value==0.0001?'10⁻⁴':''", "labelPadding": 3,
                   "title": "x", "titleX": 282, "titleY": 31, "titleAlign": "right", "titleBaseline": "alphabetic",
                   "encode": {"ticks": {"update": {"y2": {"signal": "abs(log(datum.value)/LN10-round(log(datum.value)/LN10))<0.001?-8:-4"}}}}}},
    "y": {"field": "yl", "type": "quantitative", "scale": {"domain": [-0.46, 0.46], "nice": false, "zero": false},
          "axis": {"orient": "left", "values": [-0.4,-0.3,-0.2,-0.1,0,0.1,0.2,0.3,0.4],
                   "labelExpr": "abs(datum.value*5-round(datum.value*5))<0.001?(datum.value<0?'-':'')+format(abs(datum.value),''):''", "labelPadding": 10, "title": null,
                   "encode": {"ticks": {"update": {"x2": {"signal": "abs(datum.value*5-round(datum.value*5))<0.001?14:7"}}}}}},
    "y2": {"field": "yh"}}},
  {"mark": {"type": "area", "fill": "#ffff00", "opacity": 1, "interpolate": "monotone", "clip": true},
   "encoding": {
    "x": {"field": "x", "type": "quantitative", "scale": {"type": "log", "domain": [0.0001, 1]}, "axis": null},
    "y": {"field": "yl", "type": "quantitative", "scale": {"domain": [-0.46, 0.46], "nice": false, "zero": false},
          "axis": {"orient": "right", "values": [-0.4,-0.3,-0.2,-0.1,0,0.1,0.2,0.3,0.4], "labels": false, "title": null,
                   "encode": {"ticks": {"update": {"x2": {"signal": "abs(datum.value*5-round(datum.value*5))<0.001?-14:-7"}}}}}},
    "y2": {"field": "yh"}}},
  {"mark": {"type": "area", "fill": "#ff0000", "opacity": 1, "interpolate": "monotone", "clip": true},
   "encoding": {"x": {"field": "x", "type": "quantitative", "scale": {"type": "log", "domain": [0.0001, 1]}, "axis": null},
    "y": {"field": "rl", "type": "quantitative", "scale": {"domain": [-0.46, 0.46], "nice": false, "zero": false}, "axis": null}, "y2": {"field": "rh"}}},
  {"mark": {"type": "area", "fill": "transparent", "stroke": "black", "strokeWidth": 1, "interpolate": "monotone", "clip": true},
   "encoding": {"x": {"field": "x", "type": "quantitative", "scale": {"type": "log", "domain": [0.0001, 1]}, "axis": null},
    "y": {"field": "yl", "type": "quantitative", "scale": {"domain": [-0.46, 0.46], "nice": false, "zero": false}, "axis": null}, "y2": {"field": "yh"}}},
  {"mark": {"type": "line", "stroke": "black", "strokeWidth": 1.5, "clip": true},
   "encoding": {"x": {"field": "x", "type": "quantitative", "scale": {"type": "log", "domain": [0.0001, 1]}, "axis": null},
    "y": {"datum": 0, "type": "quantitative", "axis": null}}},
  {"mark": {"type": "line", "stroke": "#0000ff", "strokeWidth": 2, "interpolate": "monotone", "clip": true},
   "encoding": {"x": {"field": "x", "type": "quantitative", "scale": {"type": "log", "domain": [0.0001, 1]}, "axis": null},
    "y": {"field": "b", "type": "quantitative", "scale": {"domain": [-0.46, 0.46], "nice": false, "zero": false}, "axis": null}}}
 ],
 "resolve": {"axis": {"x": "independent", "y": "independent"}}
},
{
 "width": 301, "height": 87,
 "data": {"name": "trr"},
 "layer": [
  {"mark": {"type": "area", "fill": "#00ff00", "opacity": 1, "interpolate": "monotone", "clip": true},
   "encoding": {
    "x": {"field": "x", "type": "quantitative", "scale": {"type": "log", "domain": [0.0001, 1]},
          "axis": {"orient": "bottom", "values": [0.0001,0.0002,0.0003,0.0004,0.0005,0.0006,0.0007,0.0008,0.0009,0.001,0.002,0.003,0.004,0.005,0.006,0.007,0.008,0.009,0.01,0.02,0.03,0.04,0.05,0.06,0.07,0.08,0.09,0.1,0.2,0.3,0.4,0.5,0.6,0.7,0.8,0.9,1],
                   "labelExpr": "datum.value==1?'1':datum.value==0.1?'10⁻¹':datum.value==0.01?'10⁻²':datum.value==0.001?'10⁻³':datum.value==0.0001?'10⁻⁴':''", "labelPadding": 3,
                   "title": "x", "titleX": 282, "titleY": 31, "titleAlign": "right", "titleBaseline": "alphabetic",
                   "encode": {"ticks": {"update": {"y2": {"signal": "abs(log(datum.value)/LN10-round(log(datum.value)/LN10))<0.001?-8:-4"}}}}}},
    "y": {"field": "yl", "type": "quantitative", "scale": {"domain": [-0.46, 0.46], "nice": false, "zero": false},
          "axis": {"orient": "left", "values": [-0.4,-0.3,-0.2,-0.1,0,0.1,0.2,0.3,0.4],
                   "labelExpr": "abs(datum.value*5-round(datum.value*5))<0.001?(datum.value<0?'-':'')+format(abs(datum.value),''):''", "labelPadding": 10, "title": null,
                   "encode": {"ticks": {"update": {"x2": {"signal": "abs(datum.value*5-round(datum.value*5))<0.001?14:7"}}}}}},
    "y2": {"field": "yh"}}},
  {"mark": {"type": "area", "fill": "#ffff00", "opacity": 1, "interpolate": "monotone", "clip": true},
   "encoding": {
    "x": {"field": "x", "type": "quantitative", "scale": {"type": "log", "domain": [0.0001, 1]}, "axis": null},
    "y": {"field": "yl", "type": "quantitative", "scale": {"domain": [-0.46, 0.46], "nice": false, "zero": false},
          "axis": {"orient": "right", "values": [-0.4,-0.3,-0.2,-0.1,0,0.1,0.2,0.3,0.4], "labels": false, "title": null,
                   "encode": {"ticks": {"update": {"x2": {"signal": "abs(datum.value*5-round(datum.value*5))<0.001?-14:-7"}}}}}},
    "y2": {"field": "yh"}}},
  {"mark": {"type": "area", "fill": "#ff0000", "opacity": 1, "interpolate": "monotone", "clip": true},
   "encoding": {"x": {"field": "x", "type": "quantitative", "scale": {"type": "log", "domain": [0.0001, 1]}, "axis": null},
    "y": {"field": "rl", "type": "quantitative", "scale": {"domain": [-0.46, 0.46], "nice": false, "zero": false}, "axis": null}, "y2": {"field": "rh"}}},
  {"mark": {"type": "area", "fill": "transparent", "stroke": "black", "strokeWidth": 1, "interpolate": "monotone", "clip": true},
   "encoding": {"x": {"field": "x", "type": "quantitative", "scale": {"type": "log", "domain": [0.0001, 1]}, "axis": null},
    "y": {"field": "yl", "type": "quantitative", "scale": {"domain": [-0.46, 0.46], "nice": false, "zero": false}, "axis": null}, "y2": {"field": "yh"}}},
  {"mark": {"type": "line", "stroke": "black", "strokeWidth": 1.5, "clip": true},
   "encoding": {"x": {"field": "x", "type": "quantitative", "scale": {"type": "log", "domain": [0.0001, 1]}, "axis": null},
    "y": {"datum": 0, "type": "quantitative", "axis": null}}},
  {"mark": {"type": "line", "stroke": "#0000ff", "strokeWidth": 2, "interpolate": "monotone", "clip": true},
   "encoding": {"x": {"field": "x", "type": "quantitative", "scale": {"type": "log", "domain": [0.0001, 1]}, "axis": null},
    "y": {"field": "b", "type": "quantitative", "scale": {"domain": [-0.46, 0.46], "nice": false, "zero": false}, "axis": null}}}
 ],
 "resolve": {"axis": {"x": "independent", "y": "independent"}}
},
{"width": 301, "height": 31, "data": {"values": []}, "mark": "point", "view": {"stroke": null}},
{"width": 301, "height": 31, "data": {"values": []}, "mark": "point", "view": {"stroke": null}},
{
 "width": 301, "height": 220,
 "data": {"name": "bl"},
 "layer": [
  {"mark": {"type": "area", "fill": "#00ff00", "opacity": 1, "interpolate": "monotone", "clip": true},
   "encoding": {
    "x": {"field": "x", "type": "quantitative", "scale": {"type": "log", "domain": [0.0001, 1]},
          "axis": {"orient": "bottom", "values": [0.0001,0.0002,0.0003,0.0004,0.0005,0.0006,0.0007,0.0008,0.0009,0.001,0.002,0.003,0.004,0.005,0.006,0.007,0.008,0.009,0.01,0.02,0.03,0.04,0.05,0.06,0.07,0.08,0.09,0.1,0.2,0.3,0.4,0.5,0.6,0.7,0.8,0.9,1], "labels": false, "title": null,
                   "encode": {"ticks": {"update": {"y2": {"signal": "abs(log(datum.value)/LN10-round(log(datum.value)/LN10))<0.001?-8:-4"}}}}}},
    "y": {"field": "yl", "type": "quantitative", "scale": {"domain": [-0.4, 8], "nice": false, "zero": false},
          "axis": {"orient": "left", "values": [0,0.2,0.4,0.6,0.8,1,1.2,1.4,1.6,1.8,2,2.2,2.4,2.6,2.8,3,3.2,3.4,3.6,3.8,4,4.2,4.4,4.6,4.8,5,5.2,5.4,5.6,5.8,6,6.2,6.4,6.6,6.8,7,7.2,7.4,7.6,7.8,8],
                   "labelExpr": "abs(datum.value-round(datum.value))<0.001?format(datum.value,''):''", "labelPadding": 10,
                   "title": "xS", "titleAngle": 270, "titleAlign": "right", "titleBaseline": "alphabetic", "titleX": -44, "titleY": -1,
                   "encode": {"ticks": {"update": {"x2": {"signal": "abs(datum.value-round(datum.value))<0.001?6:3"}}}}}},
    "y2": {"field": "yh"}}},
  {"mark": {"type": "area", "fill": "#ffff00", "opacity": 1, "interpolate": "monotone", "clip": true},
   "encoding": {
    "x": {"field": "x", "type": "quantitative", "scale": {"type": "log", "domain": [0.0001, 1]}, "axis": null},
    "y": {"field": "yl", "type": "quantitative", "scale": {"domain": [-0.4, 8], "nice": false, "zero": false},
          "axis": {"orient": "right", "values": [0,0.2,0.4,0.6,0.8,1,1.2,1.4,1.6,1.8,2,2.2,2.4,2.6,2.8,3,3.2,3.4,3.6,3.8,4,4.2,4.4,4.6,4.8,5,5.2,5.4,5.6,5.8,6,6.2,6.4,6.6,6.8,7,7.2,7.4,7.6,7.8,8], "labels": false, "title": null,
                   "encode": {"ticks": {"update": {"x2": {"signal": "abs(datum.value-round(datum.value))<0.001?-6:-3"}}}}}},
    "y2": {"field": "yh"}}},
  {"mark": {"type": "area", "fill": "#ff0000", "opacity": 1, "interpolate": "monotone", "clip": true},
   "encoding": {"x": {"field": "x", "type": "quantitative", "scale": {"type": "log", "domain": [0.0001, 1]}, "axis": null},
    "y": {"field": "rl", "type": "quantitative", "scale": {"domain": [-0.4, 8], "nice": false, "zero": false}, "axis": null}, "y2": {"field": "rh"}}},
  {"mark": {"type": "area", "fill": "transparent", "stroke": "black", "strokeWidth": 1, "interpolate": "monotone", "clip": true},
   "encoding": {"x": {"field": "x", "type": "quantitative", "scale": {"type": "log", "domain": [0.0001, 1]}, "axis": null},
    "y": {"field": "yl", "type": "quantitative", "scale": {"domain": [-0.4, 8], "nice": false, "zero": false}, "axis": null}, "y2": {"field": "yh"}}},
  {"mark": {"type": "line", "stroke": "black", "strokeWidth": 1, "clip": true},
   "encoding": {"x": {"field": "x", "type": "quantitative", "scale": {"type": "log", "domain": [0.0001, 1]}, "axis": null},
    "y": {"datum": 0, "type": "quantitative", "axis": null}}},
  {"mark": {"type": "line", "stroke": "black", "strokeWidth": 2, "interpolate": "monotone", "clip": true},
   "encoding": {"x": {"field": "x", "type": "quantitative", "scale": {"type": "log", "domain": [0.0001, 1]}, "axis": null},
    "y": {"field": "c", "type": "quantitative", "scale": {"domain": [-0.4, 8], "nice": false, "zero": false}, "axis": null}}},
  {"mark": {"type": "line", "stroke": "#0000ff", "strokeWidth": 2, "interpolate": "monotone", "clip": true},
   "encoding": {"x": {"field": "x", "type": "quantitative", "scale": {"type": "log", "domain": [0.0001, 1]}, "axis": null},
    "y": {"field": "b", "type": "quantitative", "scale": {"domain": [-0.4, 8], "nice": false, "zero": false}, "axis": null}}},
  {"data": {"values": [{"t": "Q² =10 GeV²"}]},
   "mark": {"type": "text", "font": "Liberation Serif", "fontWeight": "bold", "fontSize": 26, "align": "center", "baseline": "alphabetic", "color": "black"},
   "encoding": {"x": {"datum": 0.0154, "type": "quantitative", "axis": null}, "y": {"datum": 6.85, "type": "quantitative", "axis": null}, "text": {"field": "t"}}}
 ],
 "resolve": {"axis": {"x": "independent", "y": "independent"}}
},
{
 "width": 301, "height": 220,
 "data": {"name": "br"},
 "layer": [
  {"mark": {"type": "area", "fill": "#00ff00", "opacity": 1, "interpolate": "monotone", "clip": true},
   "encoding": {
    "x": {"field": "x", "type": "quantitative", "scale": {"type": "log", "domain": [0.0001, 1]},
          "axis": {"orient": "bottom", "values": [0.0001,0.0002,0.0003,0.0004,0.0005,0.0006,0.0007,0.0008,0.0009,0.001,0.002,0.003,0.004,0.005,0.006,0.007,0.008,0.009,0.01,0.02,0.03,0.04,0.05,0.06,0.07,0.08,0.09,0.1,0.2,0.3,0.4,0.5,0.6,0.7,0.8,0.9,1], "labels": false, "title": null,
                   "encode": {"ticks": {"update": {"y2": {"signal": "abs(log(datum.value)/LN10-round(log(datum.value)/LN10))<0.001?-8:-4"}}}}}},
    "y": {"field": "gl", "type": "quantitative", "scale": {"domain": [-0.8, 16], "nice": false, "zero": false},
          "axis": {"orient": "left", "values": [0,0.5,1,1.5,2,2.5,3,3.5,4,4.5,5,5.5,6,6.5,7,7.5,8,8.5,9,9.5,10,10.5,11,11.5,12,12.5,13,13.5,14,14.5,15,15.5,16],
                   "labelExpr": "abs(datum.value/2-round(datum.value/2))<0.001?format(datum.value,''):''", "labelPadding": 10,
                   "title": "xg", "titleAngle": 270, "titleAlign": "right", "titleBaseline": "alphabetic", "titleX": -38, "titleY": -1,
                   "encode": {"ticks": {"update": {"x2": {"signal": "abs(datum.value/2-round(datum.value/2))<0.001?6:3"}}}}}},
    "y2": {"field": "gh"}}},
  {"mark": {"type": "area", "fill": "#ffff00", "opacity": 1, "interpolate": "monotone", "clip": true},
   "encoding": {
    "x": {"field": "x", "type": "quantitative", "scale": {"type": "log", "domain": [0.0001, 1]}, "axis": null},
    "y": {"field": "yl", "type": "quantitative", "scale": {"domain": [-0.8, 16], "nice": false, "zero": false},
          "axis": {"orient": "right", "values": [0,0.5,1,1.5,2,2.5,3,3.5,4,4.5,5,5.5,6,6.5,7,7.5,8,8.5,9,9.5,10,10.5,11,11.5,12,12.5,13,13.5,14,14.5,15,15.5,16], "labels": false,
                   "title": "HERAPDF Structure Function Working Group", "titleX": 15, "titleY": 100, "titleAngle": 270, "titleAlign": "center", "titleBaseline": "top",
                   "encode": {"ticks": {"update": {"x2": {"signal": "abs(datum.value/2-round(datum.value/2))<0.001?-6:-3"}}}}}},
    "y2": {"field": "yh"}}},
  {"mark": {"type": "area", "fill": "#ff0000", "opacity": 1, "interpolate": "monotone", "clip": true},
   "encoding": {"x": {"field": "x", "type": "quantitative", "scale": {"type": "log", "domain": [0.0001, 1]}, "axis": null},
    "y": {"field": "rl", "type": "quantitative", "scale": {"domain": [-0.8, 16], "nice": false, "zero": false}, "axis": null}, "y2": {"field": "rh"}}},
  {"mark": {"type": "area", "fill": "transparent", "stroke": "black", "strokeWidth": 1, "interpolate": "monotone", "clip": true},
   "encoding": {"x": {"field": "x", "type": "quantitative", "scale": {"type": "log", "domain": [0.0001, 1]}, "axis": null},
    "y": {"field": "gl", "type": "quantitative", "scale": {"domain": [-0.8, 16], "nice": false, "zero": false}, "axis": null}, "y2": {"field": "gh"}}},
  {"mark": {"type": "line", "stroke": "black", "strokeWidth": 1, "clip": true},
   "encoding": {"x": {"field": "x", "type": "quantitative", "scale": {"type": "log", "domain": [0.0001, 1]}, "axis": null},
    "y": {"datum": 0, "type": "quantitative", "axis": null}}},
  {"mark": {"type": "line", "stroke": "black", "strokeWidth": 2, "interpolate": "monotone", "clip": true},
   "encoding": {"x": {"field": "x", "type": "quantitative", "scale": {"type": "log", "domain": [0.0001, 1]}, "axis": null},
    "y": {"field": "c", "type": "quantitative", "scale": {"domain": [-0.8, 16], "nice": false, "zero": false}, "axis": null}}},
  {"mark": {"type": "line", "stroke": "#0000ff", "strokeWidth": 2, "interpolate": "monotone", "clip": true},
   "encoding": {"x": {"field": "x", "type": "quantitative", "scale": {"type": "log", "domain": [0.0001, 1]}, "axis": null},
    "y": {"field": "b", "type": "quantitative", "scale": {"domain": [-0.8, 16], "nice": false, "zero": false}, "axis": null}}},
  {"data": {"values": [{"t": "Q² =10 GeV²"}]},
   "mark": {"type": "text", "font": "Liberation Serif", "fontWeight": "bold", "fontSize": 26, "align": "center", "baseline": "alphabetic", "color": "black"},
   "encoding": {"x": {"datum": 0.0144, "type": "quantitative", "axis": null}, "y": {"datum": 13.74, "type": "quantitative", "axis": null}, "text": {"field": "t"}}}
 ],
 "resolve": {"axis": {"x": "independent", "y": "independent"}}
},
{
 "width": 301, "height": 87,
 "data": {"name": "blr"},
 "layer": [
  {"mark": {"type": "area", "fill": "#00ff00", "opacity": 1, "interpolate": "monotone", "clip": true},
   "encoding": {
    "x": {"field": "x", "type": "quantitative", "scale": {"type": "log", "domain": [0.0001, 1]},
          "axis": {"orient": "bottom", "values": [0.0001,0.0002,0.0003,0.0004,0.0005,0.0006,0.0007,0.0008,0.0009,0.001,0.002,0.003,0.004,0.005,0.006,0.007,0.008,0.009,0.01,0.02,0.03,0.04,0.05,0.06,0.07,0.08,0.09,0.1,0.2,0.3,0.4,0.5,0.6,0.7,0.8,0.9,1],
                   "labelExpr": "datum.value==1?'1':datum.value==0.1?'10⁻¹':datum.value==0.01?'10⁻²':datum.value==0.001?'10⁻³':datum.value==0.0001?'10⁻⁴':''", "labelPadding": 3,
                   "title": "x", "titleX": 282, "titleY": 31, "titleAlign": "right", "titleBaseline": "alphabetic",
                   "encode": {"ticks": {"update": {"y2": {"signal": "abs(log(datum.value)/LN10-round(log(datum.value)/LN10))<0.001?-8:-4"}}}}}},
    "y": {"field": "yl", "type": "quantitative", "scale": {"domain": [-0.46, 0.46], "nice": false, "zero": false},
          "axis": {"orient": "left", "values": [-0.4,-0.3,-0.2,-0.1,0,0.1,0.2,0.3,0.4],
                   "labelExpr": "abs(datum.value*5-round(datum.value*5))<0.001?(datum.value<0?'-':'')+format(abs(datum.value),''):''", "labelPadding": 10, "title": null,
                   "encode": {"ticks": {"update": {"x2": {"signal": "abs(datum.value*5-round(datum.value*5))<0.001?14:7"}}}}}},
    "y2": {"field": "yh"}}},
  {"mark": {"type": "area", "fill": "#ffff00", "opacity": 1, "interpolate": "monotone", "clip": true},
   "encoding": {
    "x": {"field": "x", "type": "quantitative", "scale": {"type": "log", "domain": [0.0001, 1]}, "axis": null},
    "y": {"field": "yl", "type": "quantitative", "scale": {"domain": [-0.46, 0.46], "nice": false, "zero": false},
          "axis": {"orient": "right", "values": [-0.4,-0.3,-0.2,-0.1,0,0.1,0.2,0.3,0.4], "labels": false, "title": null,
                   "encode": {"ticks": {"update": {"x2": {"signal": "abs(datum.value*5-round(datum.value*5))<0.001?-14:-7"}}}}}},
    "y2": {"field": "yh"}}},
  {"mark": {"type": "area", "fill": "#ff0000", "opacity": 1, "interpolate": "monotone", "clip": true},
   "encoding": {"x": {"field": "x", "type": "quantitative", "scale": {"type": "log", "domain": [0.0001, 1]}, "axis": null},
    "y": {"field": "rl", "type": "quantitative", "scale": {"domain": [-0.46, 0.46], "nice": false, "zero": false}, "axis": null}, "y2": {"field": "rh"}}},
  {"mark": {"type": "area", "fill": "transparent", "stroke": "black", "strokeWidth": 1, "interpolate": "monotone", "clip": true},
   "encoding": {"x": {"field": "x", "type": "quantitative", "scale": {"type": "log", "domain": [0.0001, 1]}, "axis": null},
    "y": {"field": "yl", "type": "quantitative", "scale": {"domain": [-0.46, 0.46], "nice": false, "zero": false}, "axis": null}, "y2": {"field": "yh"}}},
  {"mark": {"type": "line", "stroke": "black", "strokeWidth": 1.5, "clip": true},
   "encoding": {"x": {"field": "x", "type": "quantitative", "scale": {"type": "log", "domain": [0.0001, 1]}, "axis": null},
    "y": {"datum": 0, "type": "quantitative", "axis": null}}},
  {"mark": {"type": "line", "stroke": "#0000ff", "strokeWidth": 2, "interpolate": "monotone", "clip": true},
   "encoding": {"x": {"field": "x", "type": "quantitative", "scale": {"type": "log", "domain": [0.0001, 1]}, "axis": null},
    "y": {"field": "b", "type": "quantitative", "scale": {"domain": [-0.46, 0.46], "nice": false, "zero": false}, "axis": null}}}
 ],
 "resolve": {"axis": {"x": "independent", "y": "independent"}}
},
{
 "width": 301, "height": 87,
 "data": {"name": "brr"},
 "layer": [
  {"mark": {"type": "area", "fill": "#00ff00", "opacity": 1, "interpolate": "monotone", "clip": true},
   "encoding": {
    "x": {"field": "x", "type": "quantitative", "scale": {"type": "log", "domain": [0.0001, 1]},
          "axis": {"orient": "bottom", "values": [0.0001,0.0002,0.0003,0.0004,0.0005,0.0006,0.0007,0.0008,0.0009,0.001,0.002,0.003,0.004,0.005,0.006,0.007,0.008,0.009,0.01,0.02,0.03,0.04,0.05,0.06,0.07,0.08,0.09,0.1,0.2,0.3,0.4,0.5,0.6,0.7,0.8,0.9,1],
                   "labelExpr": "datum.value==1?'1':datum.value==0.1?'10⁻¹':datum.value==0.01?'10⁻²':datum.value==0.001?'10⁻³':datum.value==0.0001?'10⁻⁴':''", "labelPadding": 3,
                   "title": "x", "titleX": 282, "titleY": 31, "titleAlign": "right", "titleBaseline": "alphabetic",
                   "encode": {"ticks": {"update": {"y2": {"signal": "abs(log(datum.value)/LN10-round(log(datum.value)/LN10))<0.001?-8:-4"}}}}}},
    "y": {"field": "gl", "type": "quantitative", "scale": {"domain": [-0.46, 0.46], "nice": false, "zero": false},
          "axis": {"orient": "left", "values": [-0.4,-0.3,-0.2,-0.1,0,0.1,0.2,0.3,0.4],
                   "labelExpr": "abs(datum.value*5-round(datum.value*5))<0.001?(datum.value<0?'-':'')+format(abs(datum.value),''):''", "labelPadding": 10, "title": null,
                   "encode": {"ticks": {"update": {"x2": {"signal": "abs(datum.value*5-round(datum.value*5))<0.001?14:7"}}}}}},
    "y2": {"field": "gh"}}},
  {"mark": {"type": "area", "fill": "#ffff00", "opacity": 1, "interpolate": "monotone", "clip": true},
   "encoding": {
    "x": {"field": "x", "type": "quantitative", "scale": {"type": "log", "domain": [0.0001, 1]}, "axis": null},
    "y": {"field": "yl", "type": "quantitative", "scale": {"domain": [-0.46, 0.46], "nice": false, "zero": false},
          "axis": {"orient": "right", "values": [-0.4,-0.3,-0.2,-0.1,0,0.1,0.2,0.3,0.4], "labels": false, "title": null,
                   "encode": {"ticks": {"update": {"x2": {"signal": "abs(datum.value*5-round(datum.value*5))<0.001?-14:-7"}}}}}},
    "y2": {"field": "yh"}}},
  {"mark": {"type": "area", "fill": "#ff0000", "opacity": 1, "interpolate": "monotone", "clip": true},
   "encoding": {"x": {"field": "x", "type": "quantitative", "scale": {"type": "log", "domain": [0.0001, 1]}, "axis": null},
    "y": {"field": "rl", "type": "quantitative", "scale": {"domain": [-0.46, 0.46], "nice": false, "zero": false}, "axis": null}, "y2": {"field": "rh"}}},
  {"mark": {"type": "area", "fill": "transparent", "stroke": "black", "strokeWidth": 1, "interpolate": "monotone", "clip": true},
   "encoding": {"x": {"field": "x", "type": "quantitative", "scale": {"type": "log", "domain": [0.0001, 1]}, "axis": null},
    "y": {"field": "gl", "type": "quantitative", "scale": {"domain": [-0.46, 0.46], "nice": false, "zero": false}, "axis": null}, "y2": {"field": "gh"}}},
  {"mark": {"type": "line", "stroke": "black", "strokeWidth": 1.5, "clip": true},
   "encoding": {"x": {"field": "x", "type": "quantitative", "scale": {"type": "log", "domain": [0.0001, 1]}, "axis": null},
    "y": {"datum": 0, "type": "quantitative", "axis": null}}},
  {"mark": {"type": "line", "stroke": "#0000ff", "strokeWidth": 2, "interpolate": "monotone", "clip": true},
   "encoding": {"x": {"field": "x", "type": "quantitative", "scale": {"type": "log", "domain": [0.0001, 1]}, "axis": null},
    "y": {"field": "b", "type": "quantitative", "scale": {"domain": [-0.46, 0.46], "nice": false, "zero": false}, "axis": null}}}
 ],
 "resolve": {"axis": {"x": "independent", "y": "independent"}}
}
],
"resolve": {"scale": {"fill": "independent", "stroke": "independent", "color": "independent", "opacity": "independent"}, "legend": {"fill": "independent", "stroke": "independent", "color": "independent", "opacity": "independent"}},
"config": {
 "font": "Liberation Serif",
 "view": {"stroke": "black", "strokeWidth": 1.5, "fill": "white"},
 "axis": {"domain": false, "grid": false, "tickSize": 0, "tickColor": "black", "tickWidth": 1, "ticks": true,
          "labelFont": "Liberation Serif", "labelFontWeight": "bold", "labelFontSize": 18, "labelColor": "black",
          "labelOverlap": false, "labelFlush": false, "labelBound": false,
          "titleFont": "Liberation Serif", "titleFontWeight": "bold", "titleFontSize": 22, "titleColor": "black", "zindex": 1}
}
}
